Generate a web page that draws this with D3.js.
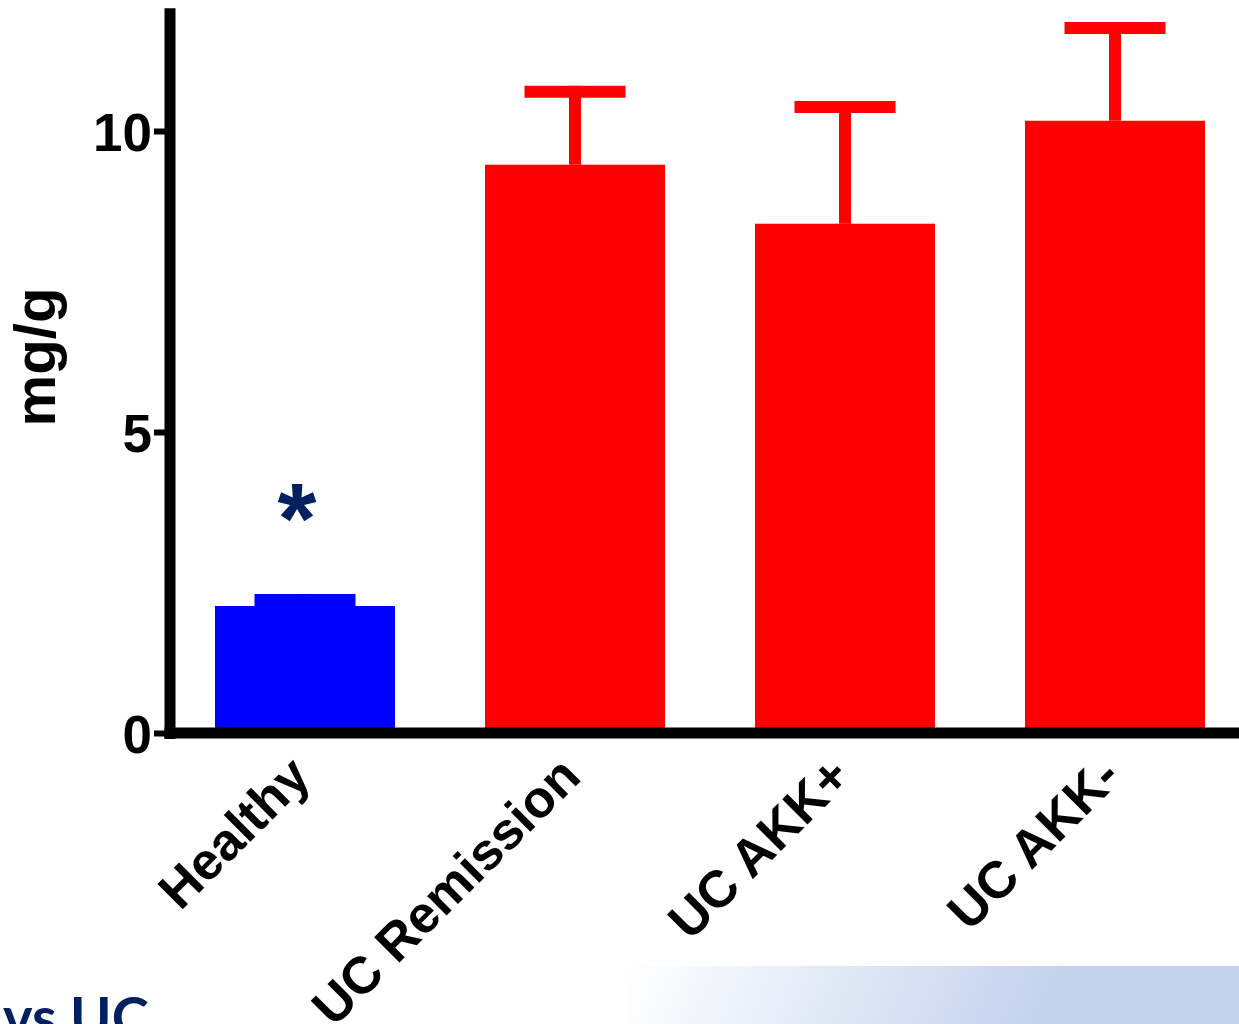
<!DOCTYPE html>
<html>
<head>
<meta charset="utf-8">
<script src="https://cdn.jsdelivr.net/npm/d3@7"></script>
<style>
  html, body { margin: 0; padding: 0; background: #fff; }
  svg { display: block; }
</style>
</head>
<body>
<svg id="chart" width="1239" height="1024"></svg>
<script>
// ---- data ----
const categories = ["Healthy", "UC Remission", "UC AKK+", "UC AKK-"];
const means = [2.11, 9.44, 8.46, 10.17];
const upperErrors = [2.21, 10.65, 10.40, 11.71];   // mean + SEM
const barColors = ["#0000ff", "#ff0000", "#ff0000", "#ff0000"];
const yTicks = [0, 5, 10];
const yLabel = "mg/g";
const sigMark = "*";
const footerText = "vs UC";

// ---- layout ----
const svg = d3.select("#chart");
const y0 = 733, pxPerUnit = 60.2;
const yTop = 12.04;
const y = d3.scaleLinear().domain([0, yTop]).range([y0, y0 - pxPerUnit * yTop]);
const x = d3.scaleBand().domain(categories).range([170, 1250])
  .paddingInner(1/3).paddingOuter(1/6);

// gradient decoration at bottom
const defs = svg.append("defs");
const grad = defs.append("linearGradient").attr("id", "bg")
  .attr("gradientUnits", "userSpaceOnUse")
  .attr("x1", 630).attr("y1", 960).attr("x2", 1010).attr("y2", 1130);
grad.append("stop").attr("offset", 0).attr("stop-color", "#ffffff");
grad.append("stop").attr("offset", 1).attr("stop-color", "#c1d0ec");
svg.append("rect").attr("x", 628).attr("y", 966).attr("width", 611).attr("height", 58)
  .attr("fill", "url(#bg)");

svg.append("text").attr("x", 3).attr("y", 1037)
  .attr("font-family", "Lato, 'Open Sans', sans-serif").attr("font-weight", 700)
  .attr("font-size", 56).attr("fill", "#002060").text(footerText);

const data = categories.map((c, i) => ({ c, m: means[i], e: upperErrors[i], col: barColors[i] }));

// error bars (upper only)
const capW = 101;
const eb = svg.append("g");
eb.selectAll("line.v").data(data).join("line")
  .attr("x1", d => x(d.c) + x.bandwidth() / 2).attr("x2", d => x(d.c) + x.bandwidth() / 2)
  .attr("y1", d => y(d.m)).attr("y2", d => y(d.e) - 6)
  .attr("stroke", d => d.col).attr("stroke-width", 12);
eb.selectAll("line.c").data(data).join("line")
  .attr("x1", d => x(d.c) + x.bandwidth() / 2 - capW / 2)
  .attr("x2", d => x(d.c) + x.bandwidth() / 2 + capW / 2)
  .attr("y1", d => y(d.e)).attr("y2", d => y(d.e))
  .attr("stroke", d => d.col).attr("stroke-width", 12);

// bars
svg.append("g").selectAll("rect").data(data).join("rect")
  .attr("x", d => x(d.c)).attr("width", x.bandwidth())
  .attr("y", d => y(d.m)).attr("height", d => y(0) - y(d.m))
  .attr("fill", d => d.col);

// significance mark
svg.append("text")
  .attr("x", x("Healthy") + x.bandwidth() / 2 - 8).attr("y", 553)
  .attr("text-anchor", "middle")
  .attr("font-family", "'Liberation Sans', Arial, sans-serif").attr("font-weight", 700)
  .attr("font-size", 100).attr("fill", "#002060").text(sigMark);

// y axis
const yAxis = svg.append("g").attr("transform", "translate(170,0)")
  .call(d3.axisLeft(y).tickValues(yTicks).tickSize(16).tickPadding(2).tickSizeOuter(0)
    .tickFormat(d3.format("d")));
yAxis.select(".domain").attr("stroke", "#000").attr("stroke-width", 11)
  .attr("d", `M0,${y0 + 6}V${y(yTop)}`);
yAxis.selectAll(".tick line").attr("stroke", "#000").attr("stroke-width", 6);
yAxis.selectAll(".tick text")
  .attr("font-family", "'Liberation Sans', Arial, sans-serif").attr("font-weight", 700)
  .attr("font-size", 53).attr("fill", "#000").attr("dy", "0.36em");

// x axis
const xAxis = svg.append("g").attr("transform", `translate(0,${y0})`)
  .call(d3.axisBottom(x).tickSize(0).tickPadding(0).tickSizeOuter(0));
xAxis.select(".domain").attr("stroke", "#000").attr("stroke-width", 11)
  .attr("d", "M164.5,0H1245");
xAxis.selectAll(".tick text")
  .attr("font-family", "'Liberation Sans', Arial, sans-serif").attr("font-weight", 700)
  .attr("font-size", 52).attr("fill", "#000")
  .attr("text-anchor", "end").attr("dy", 0).attr("y", 0)
  .attr("transform", "translate(8,46) rotate(-45)");

// y label
svg.append("text")
  .attr("transform", "translate(55,357) rotate(-90)")
  .attr("text-anchor", "middle")
  .attr("font-family", "'Liberation Sans', Arial, sans-serif").attr("font-weight", 700)
  .attr("font-size", 58).attr("fill", "#000")
  .attr("textLength", 139).attr("lengthAdjust", "spacingAndGlyphs")
  .text(yLabel);
</script>
</body>
</html>
